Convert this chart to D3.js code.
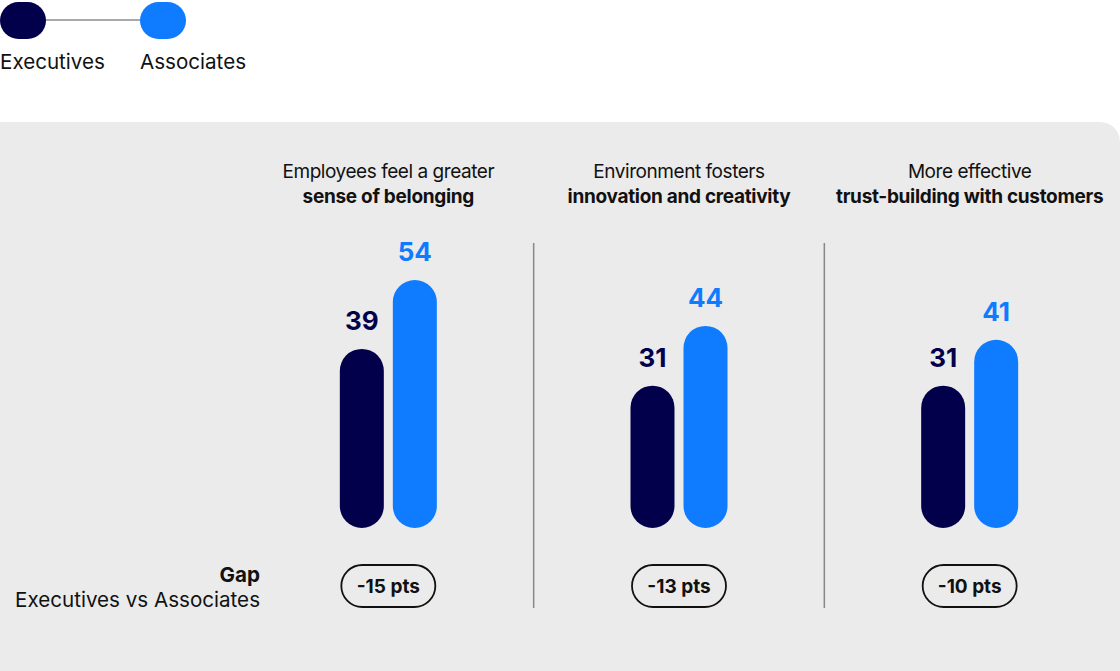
<!DOCTYPE html>
<html><head><meta charset="utf-8">
<script src="https://cdn.jsdelivr.net/npm/d3@7"></script>
<style>
html,body{margin:0;padding:0;background:#fff;}
svg{display:block;font-family:Inter,"Noto Sans",sans-serif;}
</style></head>
<body>
<svg id="chart" width="1120" height="671"></svg>
<script>
const categories = ["belonging", "innovation", "trust"];
const titleLine1 = ["Employees feel a greater", "Environment fosters", "More effective"];
const titleLine2 = ["sense of belonging", "innovation and creativity", "trust-building with customers"];
const seriesNames = ["Executives", "Associates"];
const executives = [39, 31, 31];
const associates = [54, 44, 41];
const gapLabels = ["-15 pts", "-13 pts", "-10 pts"];
const colors = ["#03004b", "#0f7bff"];

const svg = d3.select("#chart");
const W = 1120, H = 671;

// panel with rounded top-right corner
const px = 0, py = 122, pr = 20;
svg.append("path")
  .attr("d", `M${px},${py} H${W - pr} A${pr},${pr} 0 0 1 ${W},${py + pr} V${H} H${px} Z`)
  .attr("fill", "#ebebeb");

// legend
const legend = svg.append("g");
legend.append("line").attr("x1", 40).attr("x2", 146).attr("y1", 20).attr("y2", 20)
  .attr("stroke", "#555").attr("stroke-width", 1.2);
const legX = [0, 140];
seriesNames.forEach((n, i) => {
  legend.append("rect").attr("x", legX[i]).attr("y", 2).attr("width", 46).attr("height", 37)
    .attr("rx", 18.5).attr("fill", colors[i]);
  legend.append("text").attr("x", legX[i]).attr("y", 69).text(n)
    .attr("font-size", 20.6).attr("fill", "#111");
});

// scales
const x0 = d3.scaleBand().domain(categories).range([243, 1115]).paddingInner(0).paddingOuter(0);
const x1 = d3.scaleBand().domain(seriesNames).range([0, 97]).paddingInner(0.17);
const y = d3.scaleLinear().domain([0, 54]).range([528, 280]);

const data = categories.map((c, i) => ({c, i, vals: [executives[i], associates[i]]}));

const groups = svg.selectAll("g.grp").data(data).join("g").attr("class", "grp")
  .attr("transform", d => `translate(${x0(d.c)},0)`);

const bw = x0.bandwidth();
const off = (bw - 97) / 2;

// titles
groups.append("text").attr("x", bw / 2).attr("y", 178).attr("text-anchor", "middle")
  .attr("font-size", 19).attr("letter-spacing", -0.45).attr("fill", "#111").text(d => titleLine1[d.i]);
groups.append("text").attr("x", bw / 2).attr("y", 203).attr("text-anchor", "middle")
  .attr("font-size", 19).attr("font-weight", 700).attr("letter-spacing", -0.3).attr("fill", "#111").text(d => titleLine2[d.i]);

// bars
groups.each(function(d) {
  const g = d3.select(this);
  d.vals.forEach((v, k) => {
    const bx = off + x1(seriesNames[k]);
    const w = x1.bandwidth();
    g.append("rect").attr("x", bx).attr("y", y(v)).attr("width", w).attr("height", y(0) - y(v))
      .attr("rx", w / 2).attr("fill", colors[k]);
    g.append("text").attr("x", bx + w / 2).attr("y", y(v) - 19).attr("text-anchor", "middle")
      .attr("font-size", 26).attr("font-weight", 700).attr("fill", colors[k]).text(v);
  });
  // gap pill
  g.append("rect").attr("x", bw / 2 - 47).attr("y", 565).attr("width", 94).attr("height", 42)
    .attr("rx", 21).attr("fill", "none").attr("stroke", "#111").attr("stroke-width", 1.8);
  g.append("text").attr("x", bw / 2).attr("y", 593).attr("text-anchor", "middle")
    .attr("font-size", 19).attr("font-weight", 700).attr("fill", "#111").text(gapLabels[d.i]);
});

// dividers
categories.slice(1).forEach(c => {
  svg.append("line").attr("x1", x0(c)).attr("x2", x0(c)).attr("y1", 243).attr("y2", 608)
    .attr("stroke", "#888").attr("stroke-width", 1.5);
});

// gap label
svg.append("text").attr("x", 260).attr("y", 582).attr("text-anchor", "end")
  .attr("font-size", 20.6).attr("font-weight", 700).attr("fill", "#111").text("Gap");
svg.append("text").attr("x", 260).attr("y", 607).attr("text-anchor", "end")
  .attr("font-size", 20.6).attr("fill", "#111").text("Executives vs Associates");
</script>
</body></html>
